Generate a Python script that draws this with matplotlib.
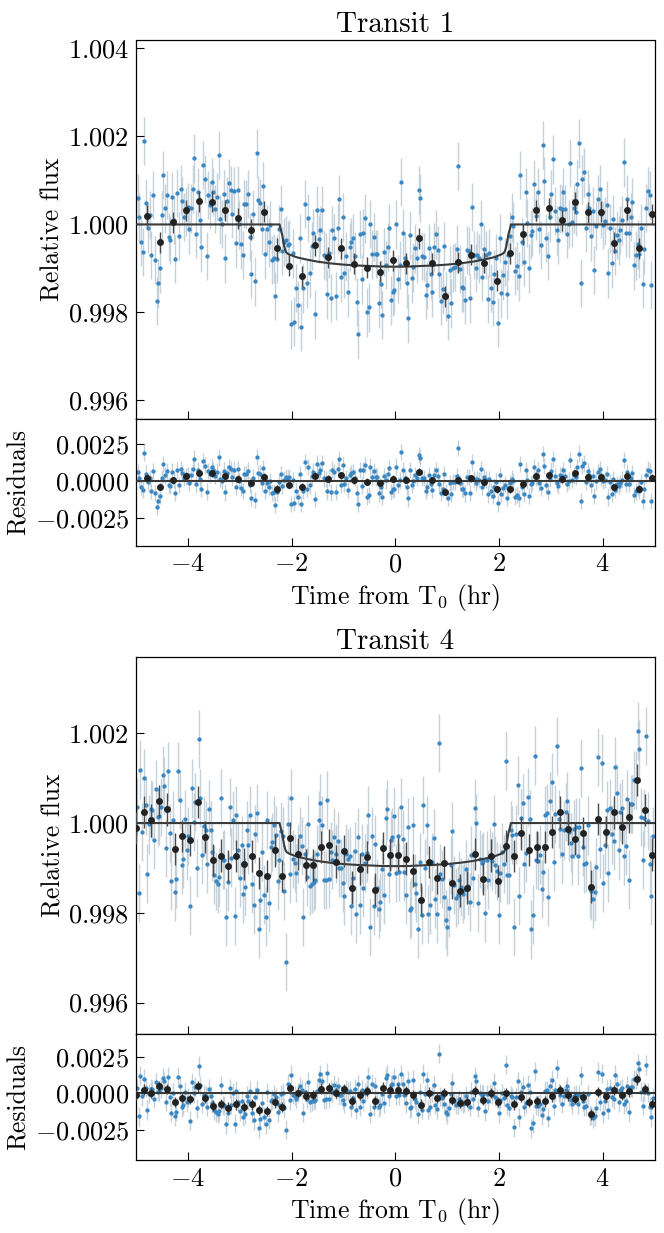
import numpy as np
import matplotlib
matplotlib.use("Agg")
from matplotlib import pyplot as plt
from matplotlib.ticker import FuncFormatter, FixedLocator

plt.rcParams['font.family'] = 'cmr10'
plt.rcParams['mathtext.fontset'] = 'cm'
plt.rcParams['axes.unicode_minus'] = False

# ------ data (flux offsets in ppm, times in hours from T0) ------ #

# transit model, shared by both transits
model_t = [-5.0, -2.23, -2.22, -2.20, -2.18, -2.16, -2.14, -2.12, -2.10, -2.07, -2.05,
           -1.9, -1.7, -1.5, -1.25, -1.0, -0.75, -0.5, -0.25, 0.0,
           0.25, 0.5, 0.75, 1.0, 1.25, 1.5, 1.7, 1.9,
           2.05, 2.07, 2.10, 2.12, 2.14, 2.16, 2.18, 2.20, 2.22, 2.23, 5.0]
model_ppm = [0, 0, -60, -150, -240, -380, -505, -590, -640, -665, -680,
             -747, -800, -845, -885, -913, -932, -944, -957, -960,
             -957, -944, -932, -913, -885, -845, -800, -747,
             -680, -665, -640, -590, -505, -380, -240, -150, -60, 0, 0]

# Transit 1 unbinned
t1_range = (-4.97, 4.94)
flux1_ppm = [
    591, 174, -393, -620, 1900, 492, -91, 212, -696, 666,
    -810, -1741, -1340, -999, 212, 1121, 364, 666, -280, -356,
    629, 99, -787, 719, -265, 795, 538, 174, 288, 394,
    -113, 364, 803, 1499, -219, 727, 99, -522, 1355, 1030,
    -719, 666, 439, 962, 742, 349, 629, 1575, 114, 15,
    689, -772, 530, 931, 772, 235, 757, -431, 772, 0,
    -454, -696, 462, 454, 697, -280, -1128, 227, -1294, 1613,
    545, 492, -113, 878, -681, -113, -409, -15, -810, -772,
    -1620, -779, -98, 356, -598, -393, -356, -469, -454, -2271,
    -658, -2210, -1438, -1832, -318, -2324, -1453, 462, -1340, 152,
    -1113, -484, -204, -2044, 326, -333, -128, 326, -696, -734,
    -1589, -658, -1665, -128, -303, -1627, -91, 568, -1203, 159,
    -1113, -711, -1544, -507, -393, -318, -711, -1756, -2498, -212,
    -1249, -204, 137, -1998, -1885, 15, -681, -280, -666, -666,
    -1794, -1355, -2059, -620, -923, -514, -75, -1726, -1529, -1491,
    0, -1241,
    -923, 969, -204, -772, -1340, -2134, -242, -1226, -976, -545,
    -772, 780, 606, -719, -742, -1605, -1377, -545, -1135, -1544,
    -522, -227, -575, -1120, -1733, -1476, -484, -1642, -2081, -1044,
    -1794, -984, -969, -552, 1325, -1014, -1430, -1438, -1718, -583,
    -605, -1680, 394, -696, -984, -696, -772, 0, -1188, -552,
    -696, -1695, -651, -1438, -1764, -1128, -772, -2233, -318, -1567,
    -1158, -855, -1589, -704, -265, 159, -38, -1052, -938, -1181,
    1121, -393, -855, 727, 31, -999, -242, -159, 924, 190,
    727, -113, -469, 1802, 984, -303, -719, 159, 697, 1476,
    311, -136, -348, 364, 356, 727, 349, -212, 15, 1401,
    46, 364, 288, 909, 1840, -1332, 1022, 1181, -75, 682,
    379, -272, 311, -1029, -38, 568, 803, 235, -15, 84,
    439, -1113, -91, -885, 121, -598, -242, -363, -128, 91,
    1408, -189, 568, -204, 174, 500, -931, -704, -454, -666,
    -75, -1355, -567, 379, 765, 674, -1370]
err1 = 0.00055

# Transit 1 binned (0.25 hr bins)
bin1_start, bin1_step = -4.79, 0.25
bin1_ppm = [197, -401, 46, 326, 530, 515, 326, 144, -121, 288,
            -545, -938, -1181, -477, -742, -545, -893, -984, -1075, -817,
            -885, -318, -885, -1635, -855, -689, -870, -1279, -658, -227,
            326, 371, 99, 500, 280, 288, -416, 333, -537, 227]
bin1_err = 0.00024

# Transit 4 unbinned
t2_range = (-4.98, 4.97)
flux2_ppm = [
    356, -1556, 1193, -200, 1000, 393, -1126, -30, 319, 282,
    -371, 756, 133, 156, 356, 1060, 823, -556, 1149, -222,
    -1297, 59, -1541, -1252, 1149, 519, -941, -808, 96, -608,
    -282, -1838, 771, 30, 467, -1000, 1867, 556, -704, -74,
    -163, -904, 311, -163, -652, -1149, -1289, -1363, -1208, 563,
    -830, -815, -2097, -1304, 356, -771, 59, -2067, 170, -593,
    -1223, -482, -1586, -1423, -163, -482, 178, -1349, -1815, -237,
    230, -2356, -1704, -652, -1593, -2082, 74, -1771, -534, -422,
    -44, -267, -1289, -815, -178, -289, -1519, -3097, -15, -1126,
    563, -800, -889, -1112, -682, -289, -504, -2090, -682, -1200,
    -30, -1408, -1363, -1319, -1260, -689, 59, 445, -37, -1275,
    -1260, 519, -1238, -637, -815, -311, -682, -408, -1008, -1000,
    -1341, -1615, -682, -793, -741, -1853, -1223, -622, -2030, -319,
    -1830, -682, -1438, -897, -667, 178, -2312, -289, -1838, -467,
    -1445, -1904, -1764, -1015, -1608, 111, 304, -1141, -385, -311,
    148, -1112, -296,
    -1089, 356, -348, -1089, -1608, -89, -1941, -1882, -37, -1349,
    -1549, -2356, -867, -2053, 408, -1000, -52, -2030, -1830, -874,
    -333, -1682, -2016, 1778, -1126, -1252, -1645, -2149, -2312, -1882,
    -941, -185, -1386, -1660, -1608, -1275, -1423, -1586, -1497, -1023,
    -1400, -1756, -719, -1230, 326, 0, -1778, -800, -889, -852,
    -2001, -830, -1260, -756, -845, -15, -941, -1074, -2038, -1112,
    -645, -919, 1393, -1163, -1149, -163, -259, -2312, -252, 837,
    -1630, 111, 452, -904, -660, 578, 96, -2371, -2038, 1504,
    -830, -852, -704, -1475, -1089, 170, 222, -1645, 489, 911,
    -874, 207, 1712, 89, -126, -697, -163, 245, 482, -200,
    -437, -741, -141, -89, -741, -96, 1230, -534, -904, -882,
    -52, -1475, -1519, -1682, -1534, -978, 1467, -571, 1341, -1334,
    -496, 289, -1112, 341, -252, -400, 1260, 667, -608, 245,
    341, -734, -511, 534, -1260, 430, 430, 963, 963, 2045,
    1652, 133, -830, 111, 1934, 44, -919, -1615, -289]
err2 = 0.00065

# Transit 4 binned
bin2_range = (-5.0, 4.96)
bin2_ppm = [-111, 252, 59, 489, 304, -578, -289, -385, 474, -304,
            -823, -726, -956, -734, -911, -741, -1119, -1178, -608, -1178,
            -333, -697, -941, -934, -526, -496, -860, -615, -1438, -1030,
            -763, -1482, -556, -719, -704,
            -793, -1060, -1704, -874, -1230, -882, -1326, -1504, -1437, -682,
            -1252, -726, -1289, -504, -734, -230, -593, -534, -541, -193,
            237, -133, -348, -222, -1415, 89, -193, 237, -96, 141,
            956, 296, -704]
bin2_err = 0.00036

transits = [
    dict(title="Transit 1", t_range=t1_range, flux=flux1_ppm, err=err1,
         bin_t=bin1_start + bin1_step * np.arange(len(bin1_ppm)), bin_flux=bin1_ppm, bin_err=bin1_err,
         ylim=(0.99559, 1.00418), rlim=(-0.00435, 0.0042), yticks=[0.996, 0.998, 1.000, 1.002, 1.004]),
    dict(title="Transit 4", t_range=t2_range, flux=flux2_ppm, err=err2,
         bin_t=np.linspace(bin2_range[0], bin2_range[1], len(bin2_ppm)), bin_flux=bin2_ppm, bin_err=bin2_err,
         ylim=(0.99530, 1.00370), rlim=(-0.00452, 0.00404), yticks=[0.996, 0.998, 1.000, 1.002]),
]

# ------ plotting ------ #

H = 1233.0
W = 664.0
left, right = 136 / W, 654.5 / W
# pixel rows (top of main, main/resid border, bottom of resid)
rows = [(40.5, 418.5, 545.5), (657.0, 1034.0, 1160.0)]

blue = '#3987c3'
ebar = '#c3d1db'
dark = '#222222'
line_col = '#3a3a3a'

fig = plt.figure(figsize=(6.64, 12.33), dpi=100)


def style(ax):
    ax.tick_params(direction='in', length=6, width=0.8, labelsize=19, pad=5,
                   top=False, right=False)
    for s in ax.spines.values():
        s.set_linewidth(0.9)
    ax.set_xlim(-5, 5)
    ax.xaxis.set_major_locator(FixedLocator([-4, -2, 0, 2, 4]))
    ax.xaxis.set_major_formatter(FuncFormatter(lambda v, p: "$%d$" % round(v)))


mt = np.array(model_t)
mf = 1 + np.array(model_ppm) * 1e-6

for tr, (top, mid, bot) in zip(transits, rows):
    flux = 1 + np.array(tr["flux"]) * 1e-6
    t = np.linspace(tr["t_range"][0], tr["t_range"][1], len(flux))
    bt = np.array(tr["bin_t"])
    bf = 1 + np.array(tr["bin_flux"]) * 1e-6
    res = flux - np.interp(t, mt, mf)
    bres = bf - np.interp(bt, mt, mf)

    ax = fig.add_axes([left, 1 - mid / H, right - left, (mid - top) / H])
    axr = fig.add_axes([left, 1 - bot / H, right - left, (bot - mid) / H])

    for a, y, by in [(ax, flux, bf), (axr, res, bres)]:
        a.errorbar(t, y, yerr=tr["err"], fmt='none', ecolor=ebar, elinewidth=1.0, zorder=1)
        a.plot(t, y, 'o', color=blue, ms=3.1, mew=0, zorder=2)
        a.errorbar(bt, by, yerr=tr["bin_err"], fmt='o', color=dark, ms=5.0, mew=0,
                   ecolor='#4a4a4a', elinewidth=1.0, zorder=4)
        style(a)

    ax.plot(mt, mf, '-', color=line_col, lw=1.5, zorder=3)
    ax.set_ylim(*tr["ylim"])
    ax.yaxis.set_major_locator(FixedLocator(tr["yticks"]))
    ax.yaxis.set_major_formatter(FuncFormatter(lambda v, p: "$%.3f$" % v))
    ax.tick_params(labelbottom=False)
    ax.set_ylabel("Relative flux", fontsize=18.5, labelpad=2)
    ax.set_title(tr["title"], fontsize=21, pad=6)

    axr.axhline(0, color=line_col, lw=1.5, zorder=3)
    axr.set_ylim(*tr["rlim"])
    axr.yaxis.set_major_locator(FixedLocator([-0.0025, 0.0, 0.0025]))
    axr.yaxis.set_major_formatter(FuncFormatter(lambda v, p: "$%.4f$" % (0.0 if abs(v) < 1e-9 else v)))
    axr.set_ylabel("Residuals", fontsize=18.5, labelpad=3)
    axr.set_xlabel(r"Time from $\mathrm{T}_0$ (hr)", fontsize=18.5, labelpad=4)

fig.savefig("out.png", dpi=100)
